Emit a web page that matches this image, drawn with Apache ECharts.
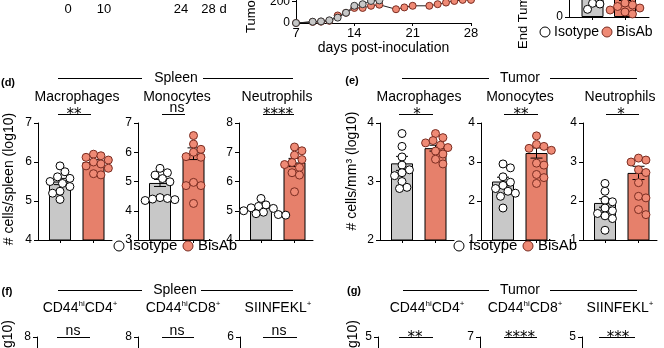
<!DOCTYPE html>
<html>
<head>
<meta charset="utf-8">
<title>BisAb myeloid and T-cell panels</title>
<script src="https://cdn.jsdelivr.net/npm/echarts@6.0.0/dist/echarts.min.js"></script>
<style>
  html, body { margin: 0; padding: 0; background: #fff; }
  #chart { width: 664px; height: 348px; }
</style>
</head>
<body>
<div id="chart"></div>
<script>
// ---------------- data ----------------
const groups = ['Isotype', 'BisAb'];

// treatment timeline labels (days)
const timelineLabels = ['0', '10', '24', '28 d'];

// tumour growth curve (mm³ by day post-inoculation)
const growthTicks = [7, 14, 21, 28];
const growthDaysIso = [7, 9, 10, 11, 12, 13, 14, 15, 16, 17];
const growthIso = [0, 12, 15, 25, 50, 95, 160, 175, 205, 210];
const growthIsoSem = [0, 3, 3, 5, 8, 12, 18, 20, 25, 35];
const growthDaysBis = [7, 9, 10, 11, 12, 13, 14, 15, 16, 17, 19, 20, 21, 23, 24, 25, 26, 27, 28];
const growthBis = [0, 10, 12, 20, 70, 95, 140, 140, 160, 170, 128, 145, 160, 160, 175, 190, 205, 215, 215];
const growthBisSem = [0, 2, 3, 4, 8, 10, 15, 15, 18, 20, 15, 15, 20, 18, 15, 15, 15, 15, 15];

// end-point tumour volume (mm³)
const endIso = [820, 560, 380, 137, 130, 77];
const endBis = [760, 520, 300, 140, 120, 105, 90, 70, 50, 30];
const endMean = [350, 240];
const endSem = [120, 75];

// spleen myeloid cells (log10 cells/spleen)
const spleenMacAxis = [4, 7];
const spleenMacIso = [5.9, 5.75, 5.62, 5.58, 5.5, 5.45, 5.37, 5.25, 5.2, 5.04];
const spleenMacBis = [6.2, 6.16, 6.12, 6.05, 6.0, 5.95, 5.9, 5.84, 5.7, 5.67];
const spleenMacMean = [5.5, 6.0];
const spleenMacSem = [0.08, 0.06];

const spleenMonoAxis = [3, 7];
const spleenMonoIso = [5.45, 5.3, 5.22, 5.1, 4.99, 4.45, 4.42, 4.4, 4.38, 4.35];
const spleenMonoBis = [6.57, 6.28, 6.1, 6.0, 5.85, 5.83, 4.97, 4.86, 4.86, 4.25];
const spleenMonoMean = [4.95, 5.95];
const spleenMonoSem = [0.12, 0.2];

const spleenNeuAxis = [4, 8];
const spleenNeuIso = [5.42, 5.2, 5.15, 5.1, 5.08, 5.0, 4.95, 4.9, 4.87, 4.85];
const spleenNeuBis = [7.18, 7.05, 6.9, 6.75, 6.65, 6.58, 6.48, 6.3, 6.22, 5.65];
const spleenNeuMean = [5.1, 6.65];
const spleenNeuSem = [0.06, 0.14];

// tumour myeloid cells (log10 cells/mm³)
const tumorMacAxis = [2, 4];
const tumorMacIso = [3.82, 3.6, 3.42, 3.28, 3.2, 3.15, 3.1, 3.0, 2.9, 2.88];
const tumorMacBis = [3.82, 3.75, 3.7, 3.66, 3.62, 3.58, 3.52, 3.47, 3.38, 3.3];
const tumorMacMean = [3.31, 3.57];
const tumorMacSem = [0.12, 0.05];

const tumorMonoAxis = [1, 4];
const tumorMonoIso = [2.95, 2.85, 2.62, 2.48, 2.4, 2.32, 2.25, 2.2, 2.12, 1.82];
const tumorMonoBis = [3.67, 3.45, 3.4, 3.35, 3.3, 2.97, 2.92, 2.68, 2.6, 2.45];
const tumorMonoMean = [2.5, 3.23];
const tumorMonoSem = [0.11, 0.13];

const tumorNeuAxis = [1, 4];
const tumorNeuIso = [2.45, 2.25, 2.02, 1.98, 1.82, 1.75, 1.68, 1.62, 1.55, 1.25];
const tumorNeuBis = [3.1, 3.05, 3.0, 2.8, 2.73, 2.47, 2.12, 2.08, 1.78, 1.65];
const tumorNeuMean = [1.95, 2.72];
const tumorNeuSem = [0.11, 0.17];

// T-cell panels (axis ranges only; plots continue below the visible area)
const spleenTAxes = [[4, 8], [4, 8], [2, 6]];
const tumorTAxes = [[1, 5], [3, 7], [1, 5]];

// panel titles and significance calls
const myeloidTitles = ['Macrophages', 'Monocytes', 'Neutrophils'];
const tcellTitles = ['{b|CD44}{s|hi}{b|CD4}{s|+}', '{b|CD44}{s|hi}{b|CD8}{s|+}', '{b|SIINFEKL}{s|+}'];
const sigSpleenMyeloid = ['**', 'ns', '****'];
const sigTumorMyeloid = ['*', '**', '*'];
const sigSpleenT = ['ns', 'ns', 'ns'];
const sigTumorT = ['**', '****', '***'];

// ---------------- styles ----------------
const FONT = '"Liberation Sans", Arial, sans-serif';
const BAR_GREY = '#c8c8c8';
const BAR_RED = '#e6806b';
const POINT_RED = '#ef8a75';
const POINT_EDGE = '#7a2c21';
const INK = '#000';

const option = {
  animation: false,
  backgroundColor: '#fff',
  textStyle: { fontFamily: FONT },
  grid: [], xAxis: [], yAxis: [], series: [], graphic: []
};

const PLOT_W = 74, SLOT = 33.5, PAD = 22, BAR_W = 22, DOT = 8;

function axisLineStyle() { return { color: INK, width: 1 }; }

// beeswarm layout: horizontal pixel offsets so that dots of one group do not overlap
function swarmOffsets(values, pxPerUnit, r) {
  const order = values.map((_, i) => i).sort((a, b) => values[b] - values[a]);
  const placed = [];
  const out = new Array(values.length).fill(0);
  const minD = 2 * r * 0.82, step = r * 0.55;
  order.forEach(i => {
    const y = values[i] * pxPerUnit;
    for (let k = 0; k < 80; k++) {
      const dx = (k % 2 ? 1 : -1) * Math.ceil(k / 2) * step;
      if (placed.every(p => (p.x - dx) ** 2 + (p.y - y) ** 2 >= minD * minD)) {
        placed.push({ x: dx, y });
        out[i] = dx;
        break;
      }
    }
  });
  return out;
}

function errorSeries(gi, pts, cap, color) {
  return {
    type: 'custom', name: 'sem', xAxisIndex: gi, yAxisIndex: gi, z: 3, silent: true,
    data: pts, encode: { x: 0, y: 1 },
    renderItem(params, api) {
      const x = api.value(0), m = api.value(1), s = api.value(2);
      if (!s) return null;
      const hi = api.coord([x, m + s]), lo = api.coord([x, m - s]);
      const st = { stroke: color || INK, lineWidth: 1 };
      return {
        type: 'group', children: [
          { type: 'line', shape: { x1: hi[0], y1: hi[1], x2: lo[0], y2: lo[1] }, style: st },
          { type: 'line', shape: { x1: hi[0] - cap, y1: hi[1], x2: hi[0] + cap, y2: hi[1] }, style: st },
          { type: 'line', shape: { x1: lo[0] - cap, y1: lo[1], x2: lo[0] + cap, y2: lo[1] }, style: st }
        ]
      };
    }
  };
}

// bar (mean) + error bar (SEM) + individual animals for two groups
function dotPlot(cfg) {
  const { left, top, height, range, interval = 1, iso, bis, mean, sem,
          width = PLOT_W, slot = SLOT, pad = PAD, xTicks = true } = cfg;
  const gi = option.grid.length;
  option.grid.push({ left, top, width, height, containLabel: false, outerBoundsMode: 'none' });
  const xMin = -pad / slot, xMax = xMin + width / slot;
  option.xAxis.push({
    gridIndex: gi, type: 'value', min: xMin, max: xMax,
    axisLine: { show: true, onZero: false, lineStyle: axisLineStyle() },
    axisTick: { show: xTicks, customValues: [0, 1], length: 3, lineStyle: axisLineStyle() },
    axisLabel: { show: false }, splitLine: { show: false }
  });
  option.yAxis.push({
    gridIndex: gi, type: 'value', min: range[0], max: range[1], interval,
    axisLine: { show: true, onZero: false, lineStyle: axisLineStyle() },
    axisTick: { show: true, length: 4, lineStyle: axisLineStyle() },
    axisLabel: { color: INK, fontSize: 12, margin: 6, fontFamily: FONT },
    splitLine: { show: false }
  });
  if (!iso) return;
  const pxPerUnit = height / (range[1] - range[0]);
  option.series.push({
    type: 'bar', name: 'mean', xAxisIndex: gi, yAxisIndex: gi, barWidth: BAR_W, z: 2, silent: true,
    data: mean.map((m, i) => ({
      value: [i, m],
      itemStyle: { color: i ? BAR_RED : BAR_GREY, borderColor: INK, borderWidth: 1 }
    }))
  });
  option.series.push(errorSeries(gi, mean.map((m, i) => [i, m, sem[i]]), 6));
  [iso, bis].forEach((vals, g) => {
    const off = swarmOffsets(vals, pxPerUnit, DOT / 2 + 0.5);
    option.series.push({
      type: 'scatter', name: groups[g], xAxisIndex: gi, yAxisIndex: gi, z: 4, silent: true,
      symbol: 'circle', symbolSize: DOT,
      itemStyle: g ? { color: POINT_RED, borderColor: POINT_EDGE, borderWidth: 1, opacity: 1 }
                   : { color: '#fff', borderColor: INK, borderWidth: 1, opacity: 1 },
      data: vals.map((v, i) => [g + off[i] / slot, v])
    });
  });
}

// ---------------- tumour growth curve ----------------
(function growth() {
  const gi = option.grid.length;
  option.grid.push({ left: 296, top: -20, width: 175, height: 43, containLabel: false, outerBoundsMode: 'none' });
  option.xAxis.push({
    gridIndex: gi, type: 'value', min: growthTicks[0], max: growthTicks[growthTicks.length - 1], interval: 7,
    axisLine: { show: true, onZero: false, lineStyle: axisLineStyle() },
    axisTick: { show: true, length: 3, lineStyle: axisLineStyle() },
    axisLabel: { color: INK, fontSize: 13, margin: 4, fontFamily: FONT },
    splitLine: { show: false },
    name: 'days post-inoculation', nameLocation: 'middle', nameGap: 17,
    nameTextStyle: { color: INK, fontSize: 14, fontFamily: FONT, verticalAlign: 'top' }
  });
  option.yAxis.push({
    gridIndex: gi, type: 'value', min: 0, max: 400, interval: 200,
    axisLine: { show: true, onZero: false, lineStyle: axisLineStyle() },
    axisTick: { show: true, length: 4, lineStyle: axisLineStyle() },
    axisLabel: { color: INK, fontSize: 12, margin: 6, fontFamily: FONT },
    splitLine: { show: false }
  });
  const mk = (days, vals) => days.map((d, i) => [d, vals[i]]);
  option.series.push(errorSeries(gi, growthDaysIso.map((d, i) => [d, growthIso[i], growthIsoSem[i]]), 2.5, '#333'));
  option.series.push(errorSeries(gi, growthDaysBis.map((d, i) => [d, growthBis[i], growthBisSem[i]]), 2.5, '#333'));
  option.series.push({
    type: 'line', name: 'growth-bis', xAxisIndex: gi, yAxisIndex: gi, z: 4, silent: true,
    data: mk(growthDaysBis, growthBis), symbol: 'circle', symbolSize: 7, showAllSymbol: true,
    lineStyle: { color: '#222', width: 1 },
    itemStyle: { color: POINT_RED, borderColor: POINT_EDGE, borderWidth: 1 }
  });
  option.series.push({
    type: 'line', name: 'growth-iso', xAxisIndex: gi, yAxisIndex: gi, z: 5, silent: true,
    data: mk(growthDaysIso, growthIso), symbol: 'circle', symbolSize: 7, showAllSymbol: true,
    lineStyle: { color: '#222', width: 1 },
    itemStyle: { color: BAR_GREY, borderColor: '#333', borderWidth: 1 }
  });
})();

// ---------------- end-point tumour volume ----------------
dotPlot({ left: 569, top: -83, height: 100, width: 80, slot: 32.5, pad: 23.5,
          range: [0, 1000], interval: 500, iso: endIso, bis: endBis, mean: endMean, sem: endSem });

// ---------------- (d) spleen myeloid ----------------
const ROW1_TOP = 123, ROW1_H = 117;
dotPlot({ left: 38, top: ROW1_TOP, height: ROW1_H, range: spleenMacAxis, iso: spleenMacIso, bis: spleenMacBis, mean: spleenMacMean, sem: spleenMacSem });
dotPlot({ left: 138, top: ROW1_TOP, height: ROW1_H, range: spleenMonoAxis, iso: spleenMonoIso, bis: spleenMonoBis, mean: spleenMonoMean, sem: spleenMonoSem });
dotPlot({ left: 239, top: ROW1_TOP, height: ROW1_H, range: spleenNeuAxis, iso: spleenNeuIso, bis: spleenNeuBis, mean: spleenNeuMean, sem: spleenNeuSem });

// ---------------- (e) tumour myeloid ----------------
dotPlot({ left: 380, top: ROW1_TOP, height: ROW1_H, range: tumorMacAxis, iso: tumorMacIso, bis: tumorMacBis, mean: tumorMacMean, sem: tumorMacSem });
dotPlot({ left: 481, top: ROW1_TOP, height: ROW1_H, range: tumorMonoAxis, iso: tumorMonoIso, bis: tumorMonoBis, mean: tumorMonoMean, sem: tumorMonoSem });
dotPlot({ left: 583, top: ROW1_TOP, height: ROW1_H, range: tumorNeuAxis, iso: tumorNeuIso, bis: tumorNeuBis, mean: tumorNeuMean, sem: tumorNeuSem });

// ---------------- (f)/(g) T-cell panels (top of axes) ----------------
const ROW2_TOP = 337;
[37, 138, 240].forEach((x, i) => dotPlot({ left: x, top: ROW2_TOP, height: ROW1_H, range: spleenTAxes[i] }));
[378, 480, 582].forEach((x, i) => dotPlot({ left: x, top: ROW2_TOP, height: ROW1_H, range: tumorTAxes[i] }));

// ---------------- annotations ----------------
const G = option.graphic;
function txt(x, y, text, o = {}) {
  G.push({
    type: 'text', x, y, rotation: o.rot || 0, z: 10, silent: true,
    style: {
      text, fill: INK, fontSize: o.size || 14, fontFamily: o.family || FONT,
      fontWeight: o.bold ? 'bold' : 'normal',
      align: o.align || 'center', verticalAlign: o.va || 'middle', rich: o.rich
    }
  });
}
function hline(x1, x2, y) {
  G.push({ type: 'line', z: 10, silent: true, shape: { x1, y1: y, x2, y2: y }, style: { stroke: INK, lineWidth: 1 } });
}
function dot(cx, cy, r, fill, stroke) {
  G.push({ type: 'circle', z: 10, silent: true, shape: { cx, cy, r }, style: { fill, stroke, lineWidth: 1 } });
}
// group key: open circle = Isotype, filled = BisAb
function groupKey(x0, x1, y, size, gap) {
  dot(x0, y, 5, '#fff', INK);
  txt(x0 + gap, y, groups[0], { align: 'left', size });
  dot(x1, y, 5, POINT_RED, POINT_EDGE);
  txt(x1 + gap, y, groups[1], { align: 'left', size });
}
groupKey(545, 607, 32, 14, 9);
groupKey(119, 188, 246, 15, 10);
groupKey(459, 528, 246, 15, 10);

const richT = {
  b: { fontSize: 14, fontFamily: FONT, fill: INK, lineHeight: 16 },
  s: { fontSize: 8, fontFamily: FONT, fill: INK, lineHeight: 10, verticalAlign: 'top' }
};

// timeline
[68, 104, 181, 214].forEach((x, i) => txt(x, 9, timelineLabels[i], { size: 13 }));
// rotated axis titles of the top row
txt(251, 33, 'Tumor volume (mm³)', { rot: Math.PI / 2, align: 'left', size: 13 });
txt(523, 49, 'End Tumor volume (mm³)', { rot: Math.PI / 2, align: 'left', size: 13 });

// panel letters
txt(8, 83, '(d)', { bold: true, size: 11 });
txt(352, 81, '(e)', { bold: true, size: 11 });
txt(7, 292, '(f)', { bold: true, size: 11 });
txt(354, 291, '(g)', { bold: true, size: 11 });

// tissue headers
function header(cx, y, text, l, r) { txt(cx, y, text); hline(l[0], l[1], y + 0.5); hline(r[0], r[1], y + 0.5); }
header(176, 78, 'Spleen', [58, 142], [203, 293]);
header(520, 78, 'Tumor', [402, 489], [550, 637]);
header(175, 290, 'Spleen', [58, 142], [201, 293]);
header(520, 290, 'Tumor', [403, 489], [550, 637]);

// subplot titles
[77, 177, 277].forEach((x, i) => txt(x, 97, myeloidTitles[i]));
[419, 520, 620].forEach((x, i) => txt(x, 97, myeloidTitles[i]));
[80, 183, 278].forEach((x, i) => txt(x, 308, tcellTitles[i], { rich: richT }));
[427, 525, 620].forEach((x, i) => txt(x, 308, tcellTitles[i], { rich: richT }));

// significance bars
function sig(label, cx, x1, x2, y) {
  hline(x1, x2, y + 0.5);
  if (label === 'ns') txt(cx, y - 6, label, { size: 14 });
  else txt(cx, y + 1, label, { size: 15, family: '"DejaVu Sans", sans-serif' });
}
[[74, 58, 91], [177, 162, 185], [278, 263, 294]].forEach((p, i) => sig(sigSpleenMyeloid[i], p[0], p[1], p[2], 114));
[[417, 399, 433], [521, 504, 538], [621, 606, 639]].forEach((p, i) => sig(sigTumorMyeloid[i], p[0], p[1], p[2], 114));
[[73, 57, 90], [177, 162, 194], [279, 263, 297]].forEach((p, i) => sig(sigSpleenT[i], p[0], p[1], p[2], 337));
[[415, 399, 433], [520, 504, 537], [618, 599, 635]].forEach((p, i) => sig(sigTumorT[i], p[0], p[1], p[2], 337));

// y-axis titles
txt(9, 179, '# cells/spleen (log10)', { rot: Math.PI / 2, size: 14 });
txt(352, 171, '# cells/mm³ (log10)', { rot: Math.PI / 2, size: 14 });
txt(8, 320, '# cells/spleen (log10)', { rot: Math.PI / 2, size: 14, align: 'right' });
txt(353, 320, '# cells/mm³ (log10)', { rot: Math.PI / 2, size: 14, align: 'right' });

const chart = echarts.init(document.getElementById('chart'), null, { renderer: 'canvas' });
chart.setOption(option);
</script>
</body>
</html>
